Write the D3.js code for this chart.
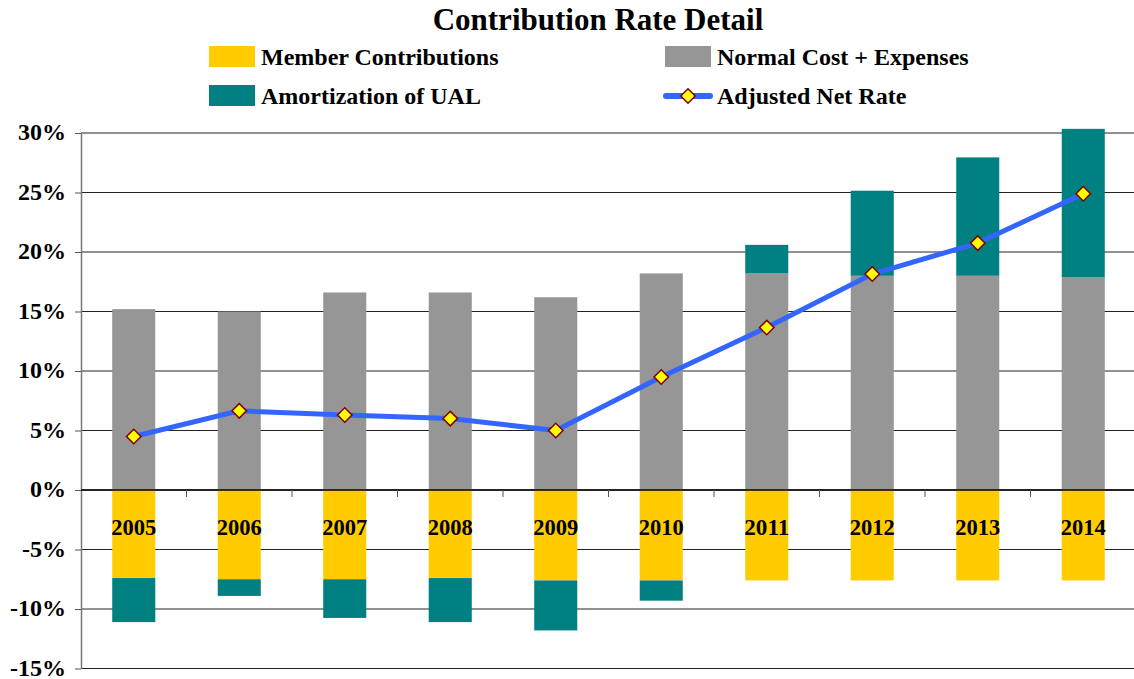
<!DOCTYPE html>
<html>
<head>
<meta charset="utf-8">
<script src="https://cdn.jsdelivr.net/npm/d3@7"></script>
<style>
  body { margin: 0; background: #fff; }
  svg text { font-family: "Liberation Serif", "Times New Roman", serif; font-weight: bold; }
</style>
</head>
<body>
<svg id="chart"></svg>
<script>
var years = ["2005", "2006", "2007", "2008", "2009", "2010", "2011", "2012", "2013", "2014"];
var memberContrib = [-7.4, -7.5, -7.5, -7.4, -7.6, -7.6, -7.6, -7.6, -7.6, -7.6];
var normalCost = [15.2, 15.0, 16.6, 16.6, 16.2, 18.2, 18.2, 18.0, 18.0, 17.9];
var amortization = [-3.7, -1.4, -3.25, -3.7, -4.2, -1.7, 2.4, 7.15, 9.95, 12.45];
var netRate = [4.5, 6.65, 6.3, 6.0, 5.0, 9.5, 13.65, 18.15, 20.75, 24.9];
var yTicks = [-15, -10, -5, 0, 5, 10, 15, 20, 25, 30];

var w = 1134, h = 679,
		left = 81, right = 1136;

var colors = { member: "#ffcc00", normal: "#969696", amort: "#008080" };

var svg = d3.select("#chart")
		.attr("width", w)
		.attr("height", h);

var xScale = d3.scaleBand()
		.domain(years)
		.range([left, right])
		.paddingInner(0.592)
		.paddingOuter(0.296);

var yScale = d3.scaleLinear()
		.domain([-15, 30])
		.range([668.5, 133]);

// rows for the stack, positive and negative parts split by the diverging offset
var rows = years.map(function (d, i) {
	return { year: d, member: memberContrib[i], normal: normalCost[i], amort: amortization[i] };
});
var stack = d3.stack()
		.keys(["member", "normal", "amort"])
		.offset(d3.stackOffsetDiverging);
var series = stack(rows);

// gridlines
svg.append("g")
	.selectAll("line")
	.data(yTicks)
	.enter().append("line")
		.attr("x1", left)
		.attr("x2", w)
		.attr("y1", function (d) { return yScale(d); })
		.attr("y2", function (d) { return yScale(d); })
		.attr("stroke", "#222")
		.attr("stroke-width", 1);

// bars
svg.append("g")
	.selectAll("g")
	.data(series)
	.enter().append("g")
		.attr("fill", function (d) { return colors[d.key]; })
	.selectAll("rect")
	.data(function (d) { return d; })
	.enter().append("rect")
		.attr("x", function (d) { return xScale(d.data.year); })
		.attr("width", xScale.bandwidth())
		.attr("y", function (d) { return yScale(d[1]); })
		.attr("height", function (d) { return yScale(d[0]) - yScale(d[1]); });

// y axis
var yAxis = svg.append("g")
		.attr("transform", "translate(" + left + ",0)")
		.call(d3.axisLeft(yScale)
			.tickValues(yTicks)
			.tickFormat(function (d) { return d + "%"; })
			.tickSize(6)
			.tickSizeOuter(0)
			.tickPadding(9));
yAxis.select(".domain").attr("stroke", "#777").attr("stroke-width", 1.5);
yAxis.selectAll(".tick line").attr("stroke", "#555");
yAxis.selectAll("text")
		.attr("font-size", 24)
		.attr("dy", "0.28em")
		.attr("fill", "#000")
		.style("font-family", "Liberation Serif");

// x axis line at zero with category separators
svg.append("line")
		.attr("x1", left)
		.attr("x2", w)
		.attr("y1", yScale(0))
		.attr("y2", yScale(0))
		.attr("stroke", "#000")
		.attr("stroke-width", 1.5);

svg.append("g")
	.selectAll("line")
	.data(years.slice(1))
	.enter().append("line")
		.attr("x1", function (d) { return xScale(d) - xScale.step() * xScale.paddingInner() / 2; })
		.attr("x2", function (d) { return xScale(d) - xScale.step() * xScale.paddingInner() / 2; })
		.attr("y1", yScale(0))
		.attr("y2", yScale(0) + 7)
		.attr("stroke", "#555");

svg.append("g")
	.selectAll("text")
	.data(years)
	.enter().append("text")
		.attr("x", function (d) { return xScale(d) + xScale.bandwidth() / 2; })
		.attr("y", yScale(0) + 45)
		.attr("text-anchor", "middle")
		.attr("font-size", 24)
		.attr("textLength", 45)
		.attr("lengthAdjust", "spacingAndGlyphs")
		.text(function (d) { return d; });

// net rate line
var line = d3.line()
		.x(function (d, i) { return xScale(years[i]) + xScale.bandwidth() / 2; })
		.y(function (d) { return yScale(d); });

svg.append("path")
		.datum(netRate)
		.attr("d", line)
		.attr("fill", "none")
		.attr("stroke", "#3366ff")
		.attr("stroke-width", 5);

// diamond marker = square turned 45deg
var diamond = d3.symbol().type(d3.symbolSquare).size(105);

svg.append("g")
	.selectAll("path")
	.data(netRate)
	.enter().append("path")
		.attr("d", diamond)
		.attr("transform", function (d, i) {
			return "translate(" + (xScale(years[i]) + xScale.bandwidth() / 2) + "," + yScale(d) + ") rotate(45)";
		})
		.attr("fill", "#ffff00")
		.attr("stroke", "#800000")
		.attr("stroke-width", 1.5);

// title
svg.append("text")
		.attr("x", 598)
		.attr("y", 30)
		.attr("text-anchor", "middle")
		.attr("font-size", 31)
		.text("Contribution Rate Detail");

// legend
var legend = [
	{ label: "Member Contributions", color: colors.member, x: 209, y: 46 },
	{ label: "Normal Cost + Expenses", color: colors.normal, x: 665, y: 46 },
	{ label: "Amortization of UAL", color: colors.amort, x: 209, y: 85 }
];

var lg = svg.append("g");
legend.forEach(function (d) {
	lg.append("rect")
		.attr("x", d.x)
		.attr("y", d.y)
		.attr("width", 46)
		.attr("height", 21)
		.attr("fill", d.color);
	lg.append("text")
		.attr("x", d.x + 52)
		.attr("y", d.y + 19)
		.attr("font-size", 24)
		.text(d.label);
});

lg.append("line")
		.attr("x1", 666)
		.attr("x2", 710)
		.attr("y1", 96)
		.attr("y2", 96)
		.attr("stroke", "#3366ff")
		.attr("stroke-width", 6)
		.attr("stroke-linecap", "round");
lg.append("path")
		.attr("d", diamond)
		.attr("transform", "translate(688,96) rotate(45)")
		.attr("fill", "#ffff00")
		.attr("stroke", "#800000")
		.attr("stroke-width", 1.5);
lg.append("text")
		.attr("x", 717)
		.attr("y", 104)
		.attr("font-size", 24)
		.text("Adjusted Net Rate");
</script>
</body>
</html>
